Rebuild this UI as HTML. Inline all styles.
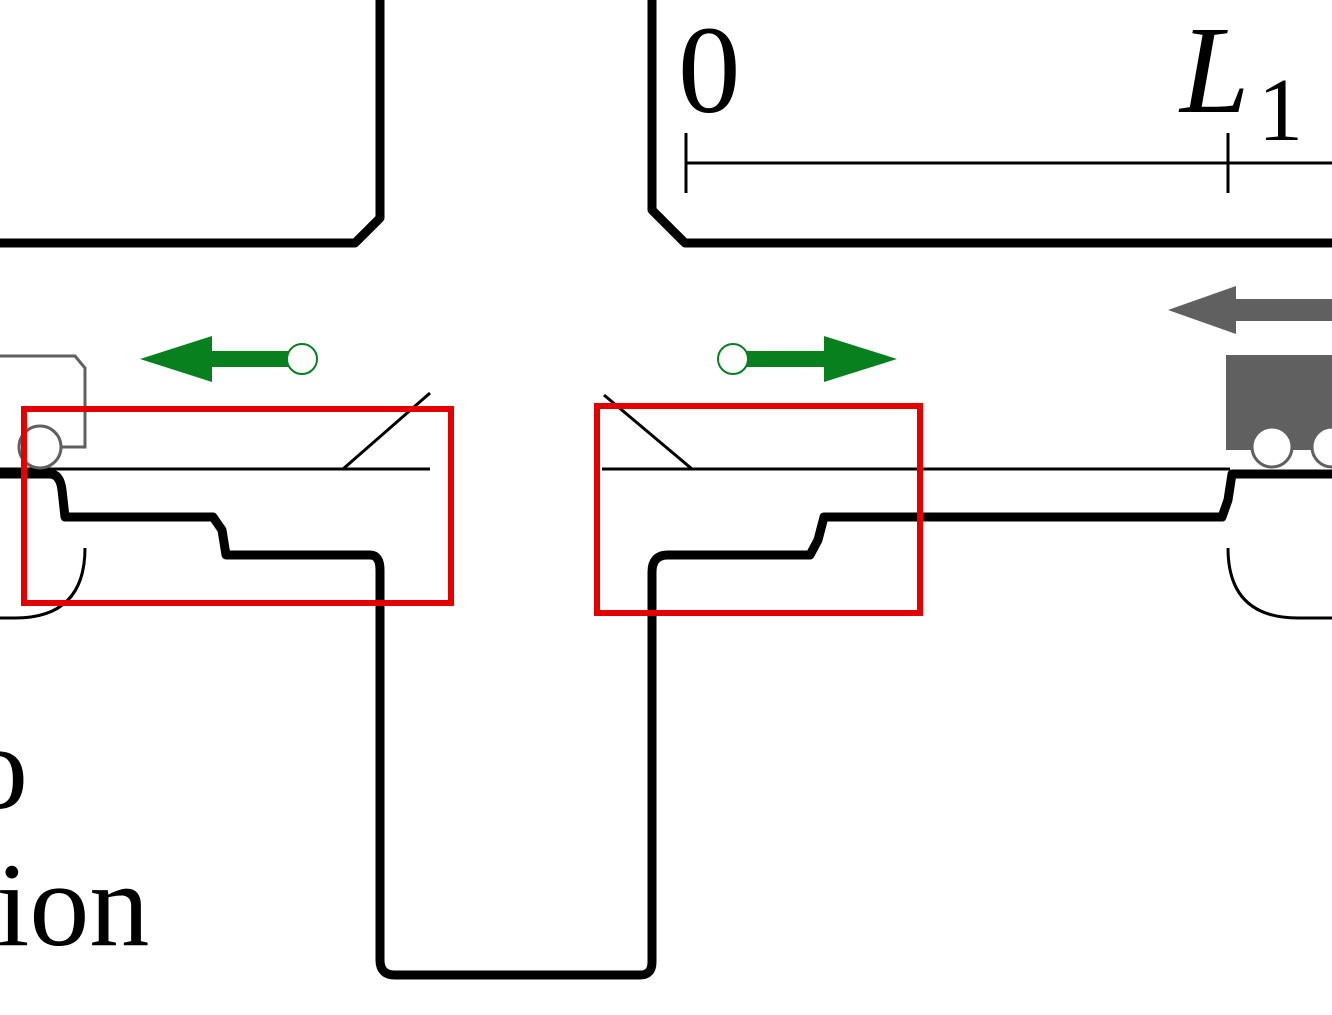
<!DOCTYPE html>
<html><head><meta charset="utf-8"><style>
html,body{margin:0;padding:0;background:#fff;width:1332px;height:1015px;overflow:hidden}
text{font-family:"Liberation Serif","DejaVu Serif",serif}
</style></head><body>
<svg width="1332" height="1015" viewBox="0 0 1332 1015" xmlns="http://www.w3.org/2000/svg">
<g fill="none" stroke="#000" stroke-width="9" stroke-linejoin="round">
<path d="M0 243 H355 L380 218 V0"/>
<path d="M652 0 V210 L685 243 H1332"/>
<path d="M0 474 H50 Q60 474 62 490 L65 517 H213 L222 530 L226 555 H370 Q380 555 380 570 V960 Q380 975 395 975 H640 Q652 975 652 962 V572 Q652 555 668 555 H810 L818 540 L824 517 H1222 L1228 500 L1232 474 H1332"/>
</g>
<g fill="none" stroke="#000" stroke-width="3">
<line x1="0" y1="469" x2="430" y2="469"/>
<line x1="602" y1="469" x2="1230" y2="469"/>
<line x1="343" y1="469" x2="430" y2="393"/>
<line x1="604" y1="395" x2="692" y2="469"/>
<path d="M85 548 Q85 618 15 618 H0"/>
<path d="M1228 548 Q1228 618 1298 618 H1332"/>
<line x1="686" y1="163" x2="1332" y2="163"/>
<line x1="686" y1="133" x2="686" y2="193"/>
<line x1="1228" y1="133" x2="1228" y2="193"/>
</g>
<text x="678" y="112" font-size="125">0</text>
<text x="1180" y="112" font-size="125" font-style="italic">L</text>
<text x="1258" y="140" font-size="90">1</text>
<text x="-32" y="808" font-size="120">o</text>
<text x="-4" y="945" font-size="120">ion</text>
<g fill="#08801e" stroke="#08801e">
<rect x="205" y="351" width="85" height="16" stroke="none"/>
<polygon points="140,359 212,336 212,382" stroke="none"/>
<circle cx="302" cy="359" r="15" fill="#fff" stroke-width="2"/>
<rect x="745" y="351" width="85" height="16" stroke="none"/>
<polygon points="897,359 824,336 824,382" stroke="none"/>
<circle cx="733" cy="359" r="15" fill="#fff" stroke-width="2"/>
</g>
<g fill="#606060">
<rect x="1230" y="299" width="102" height="22"/>
<polygon points="1168,310 1236,286 1236,334"/>
<rect x="1226" y="355" width="106" height="95"/>
</g>
<circle cx="1272" cy="447" r="20" fill="#fff" stroke="#606060" stroke-width="3"/>
<circle cx="1332" cy="447" r="20" fill="#fff" stroke="#606060" stroke-width="3"/>
<path d="M0 356 H75 L85 368 V447 H62" fill="none" stroke="#606060" stroke-width="3"/>
<circle cx="40" cy="447" r="21" fill="#fff" stroke="#606060" stroke-width="3"/>
<g fill="none" stroke="#e50000" stroke-width="6">
<rect x="24" y="409" width="427" height="194"/>
<rect x="597" y="406" width="323" height="207"/>
</g>
</svg>
</body></html>
